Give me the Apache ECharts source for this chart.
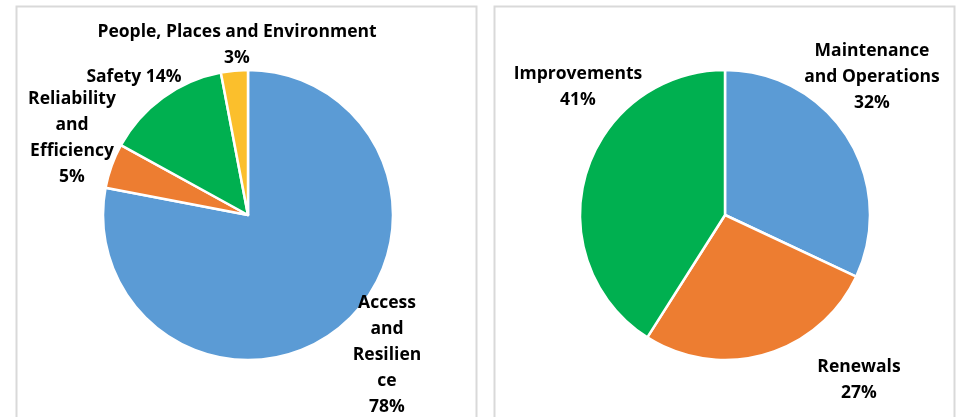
<!DOCTYPE html>
<html>
<head>
<meta charset="utf-8">
<script src="https://cdn.jsdelivr.net/npm/echarts@6/dist/echarts.min.js"></script>
<style>
html,body{margin:0;padding:0;background:#fff;}
#chart{width:959px;height:417px;}
</style>
</head>
<body>
<div id="chart"></div>
<script>
// Left pie
var leftCategories = ['Access\nand\nResilien\nce', 'Reliability\nand\nEfficiency', 'Safety', 'People, Places and Environment'];
var leftValues = [78, 5, 14, 3];
var leftColors = ['#5B9BD5', '#ED7D31', '#00B050', '#FBBF2C'];
// Right pie
var rightCategories = ['Maintenance\nand Operations', 'Renewals', 'Improvements'];
var rightValues = [32, 27, 41];
var rightColors = ['#5B9BD5', '#ED7D31', '#00B050'];

// label layout (text block centres) and separators
var leftLabelPos = [[387, 355], [72, 138], [134, 77], [237, 45]];
var leftSep = ['\n', '\n', ' ', '\n'];
var rightLabelPos = [[872, 77], [859, 380], [578, 87]];
var rightSep = ['\n', '\n', '\n'];

function makeData(cats, vals, colors, seps) {
  return cats.map(function (c, i) {
    return {
      name: c, value: vals[i],
      itemStyle: { color: colors[i] },
      label: { formatter: c + seps[i] + vals[i] + '%' }
    };
  });
}

var labelStyle = {
  show: true,
  position: 'outside',
  fontFamily: 'Open Sans',
  fontWeight: 'bold',
  fontSize: 17.5,
  lineHeight: 26,
  color: '#000',
  align: 'center'
};

var chart = echarts.init(document.getElementById('chart'), null, { renderer: 'canvas' });
chart.setOption({
  animation: false,
  backgroundColor: '#fff',
  graphic: [
    { type: 'rect', shape: { x: 16.5, y: 6.5, width: 460, height: 430 }, style: { fill: 'none', stroke: '#D9D9D9', lineWidth: 2 } },
    { type: 'rect', shape: { x: 494.5, y: 6.5, width: 460, height: 430 }, style: { fill: 'none', stroke: '#D9D9D9', lineWidth: 2 } }
  ],
  series: [
    {
      type: 'pie',
      center: [248, 215],
      radius: 145,
      startAngle: 90,
      clockwise: true,
      avoidLabelOverlap: false,
      itemStyle: { borderColor: '#fff', borderWidth: 2.5 },
      label: labelStyle,
      labelLine: { show: false },
      labelLayout: function (p) {
        var pos = leftLabelPos[p.dataIndex];
        return { x: pos[0], y: pos[1], align: 'center', verticalAlign: 'middle' };
      },
      data: makeData(leftCategories, leftValues, leftColors, leftSep)
    },
    {
      type: 'pie',
      center: [725, 215],
      radius: 145,
      startAngle: 90,
      clockwise: true,
      avoidLabelOverlap: false,
      itemStyle: { borderColor: '#fff', borderWidth: 2.5 },
      label: labelStyle,
      labelLine: { show: false },
      labelLayout: function (p) {
        var pos = rightLabelPos[p.dataIndex];
        return { x: pos[0], y: pos[1], align: 'center', verticalAlign: 'middle' };
      },
      data: makeData(rightCategories, rightValues, rightColors, rightSep)
    }
  ]
});
</script>
</body>
</html>
